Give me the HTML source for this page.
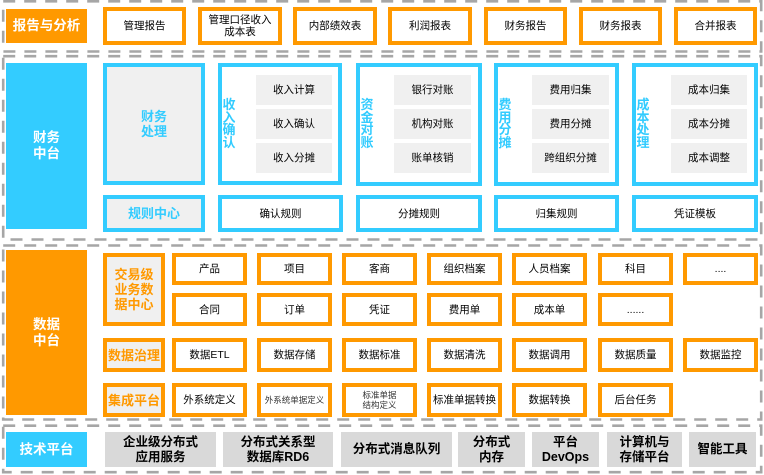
<!DOCTYPE html>
<html><head><meta charset="utf-8">
<style>
*{margin:0;padding:0;box-sizing:border-box}
html,body{width:764px;height:475px;background:#fff;overflow:hidden}
body{position:relative;font-family:"Liberation Sans","Noto Sans CJK SC",sans-serif;color:#000}
.b{position:absolute;display:flex;align-items:center;justify-content:center;text-align:center;font-size:10.5px;line-height:12px}
.o{border:4px solid #ff9900;background:#fff}
.bl{border:4px solid #33ccff;background:#fff}
.g{background:#f0f0f0}
.lab{color:#fff;font-weight:bold;font-size:13.5px;line-height:16px}
.ob{background:#ff9900}
.bb{background:#33ccff}
.ol{border:4px solid #ff9900;background:#f0f0f0;color:#ff9900;font-weight:bold;font-size:13px;line-height:15px}
.blt{color:#33ccff;font-weight:bold;font-size:13px;line-height:15px}
.vt{position:absolute;color:#33ccff;font-weight:bold;font-size:13px;line-height:12.5px;width:14px;text-align:center}
.t{background:#d9d9d9;font-weight:bold;font-size:12.5px;line-height:15px}
.sm{font-size:8.5px;line-height:10px;color:#333}
</style></head><body>
<svg width="764" height="475" style="position:absolute;left:0;top:0">
<g fill="none" stroke="#a6a6a6" stroke-width="2.6" stroke-dasharray="12 9">
<rect x="3.2" y="1.3" width="758" height="50.2"/>
<rect x="3.2" y="56.2" width="758" height="183.3"/>
<rect x="3.2" y="245.5" width="758" height="174"/>
<rect x="3.2" y="425.7" width="758" height="46.5"/>
</g>
</svg>

<!-- Top section -->
<div class="b lab ob" style="left:6px;top:9px;width:81px;height:34px">报告与分析</div>
<div class="b o" style="left:103px;top:7px;width:83px;height:38px">管理报告</div>
<div class="b o" style="left:198px;top:7px;width:84px;height:38px">管理口径收入<br>成本表</div>
<div class="b o" style="left:293px;top:7px;width:84px;height:38px">内部绩效表</div>
<div class="b o" style="left:388px;top:7px;width:84px;height:38px">利润报表</div>
<div class="b o" style="left:484px;top:7px;width:83px;height:38px">财务报告</div>
<div class="b o" style="left:579px;top:7px;width:83px;height:38px">财务报表</div>
<div class="b o" style="left:674px;top:7px;width:83px;height:38px">合并报表</div>

<!-- Finance section -->
<div class="b lab bb" style="left:6px;top:63px;width:81px;height:166px">财务<br>中台</div>
<div class="b bl g blt" style="left:103px;top:63px;width:102px;height:122px">财务<br>处理</div>

<div class="b bl" style="left:218px;top:63px;width:124px;height:122px"></div>
<div class="vt" style="left:222px;top:99px">收<br>入<br>确<br>认</div>
<div class="b g" style="left:256px;top:75px;width:76px;height:30px">收入计算</div>
<div class="b g" style="left:256px;top:109px;width:76px;height:30px">收入确认</div>
<div class="b g" style="left:256px;top:143px;width:76px;height:30px">收入分摊</div>

<div class="b bl" style="left:356px;top:63px;width:126px;height:123px"></div>
<div class="vt" style="left:360px;top:99px">资<br>金<br>对<br>账</div>
<div class="b g" style="left:394px;top:75px;width:77px;height:30px">银行对账</div>
<div class="b g" style="left:394px;top:109px;width:77px;height:30px">机构对账</div>
<div class="b g" style="left:394px;top:143px;width:77px;height:30px">账单核销</div>

<div class="b bl" style="left:494px;top:63px;width:125px;height:123px"></div>
<div class="vt" style="left:498px;top:99px">费<br>用<br>分<br>摊</div>
<div class="b g" style="left:532px;top:75px;width:77px;height:30px">费用归集</div>
<div class="b g" style="left:532px;top:109px;width:77px;height:30px">费用分摊</div>
<div class="b g" style="left:532px;top:143px;width:77px;height:30px">跨组织分摊</div>

<div class="b bl" style="left:632px;top:63px;width:126px;height:123px"></div>
<div class="vt" style="left:636px;top:99px">成<br>本<br>处<br>理</div>
<div class="b g" style="left:671px;top:75px;width:76px;height:30px">成本归集</div>
<div class="b g" style="left:671px;top:109px;width:76px;height:30px">成本分摊</div>
<div class="b g" style="left:671px;top:143px;width:76px;height:30px">成本调整</div>

<div class="b bl g blt" style="left:103px;top:195px;width:102px;height:37px">规则中心</div>
<div class="b bl" style="left:218px;top:195px;width:125px;height:37px">确认规则</div>
<div class="b bl" style="left:356px;top:195px;width:126px;height:37px">分摊规则</div>
<div class="b bl" style="left:494px;top:195px;width:125px;height:37px">归集规则</div>
<div class="b bl" style="left:632px;top:195px;width:126px;height:37px">凭证模板</div>

<!-- Data section -->
<div class="b lab ob" style="left:6px;top:250px;width:81px;height:165px">数据<br>中台</div>
<div class="b ol" style="left:103px;top:253px;width:62px;height:73px">交易级<br>业务数<br>据中心</div>
<div class="b ol" style="left:103px;top:338px;width:62px;height:34px">数据治理</div>
<div class="b ol" style="left:103px;top:383px;width:62px;height:34px">集成平台</div>

<div class="b o" style="left:172px;top:253px;width:75px;height:32px">产品</div>
<div class="b o" style="left:257px;top:253px;width:75px;height:32px">项目</div>
<div class="b o" style="left:342px;top:253px;width:75px;height:32px">客商</div>
<div class="b o" style="left:427px;top:253px;width:75px;height:32px">组织档案</div>
<div class="b o" style="left:512px;top:253px;width:75px;height:32px">人员档案</div>
<div class="b o" style="left:598px;top:253px;width:75px;height:32px">科目</div>
<div class="b o" style="left:683px;top:253px;width:75px;height:32px">....</div>

<div class="b o" style="left:172px;top:293px;width:75px;height:33px">合同</div>
<div class="b o" style="left:257px;top:293px;width:75px;height:33px">订单</div>
<div class="b o" style="left:342px;top:293px;width:75px;height:33px">凭证</div>
<div class="b o" style="left:427px;top:293px;width:75px;height:33px">费用单</div>
<div class="b o" style="left:512px;top:293px;width:75px;height:33px">成本单</div>
<div class="b o" style="left:598px;top:293px;width:75px;height:33px">......</div>

<div class="b o" style="left:172px;top:338px;width:75px;height:34px">数据ETL</div>
<div class="b o" style="left:257px;top:338px;width:75px;height:34px">数据存储</div>
<div class="b o" style="left:342px;top:338px;width:75px;height:34px">数据标准</div>
<div class="b o" style="left:427px;top:338px;width:75px;height:34px">数据清洗</div>
<div class="b o" style="left:512px;top:338px;width:75px;height:34px">数据调用</div>
<div class="b o" style="left:598px;top:338px;width:75px;height:34px">数据质量</div>
<div class="b o" style="left:683px;top:338px;width:75px;height:34px">数据监控</div>

<div class="b o" style="left:172px;top:383px;width:75px;height:34px">外系统定义</div>
<div class="b o sm" style="left:257px;top:383px;width:75px;height:34px">外系统单据定义</div>
<div class="b o sm" style="left:342px;top:383px;width:75px;height:34px">标准单据<br>结构定义</div>
<div class="b o" style="left:427px;top:383px;width:75px;height:34px">标准单据转换</div>
<div class="b o" style="left:512px;top:383px;width:75px;height:34px">数据转换</div>
<div class="b o" style="left:598px;top:383px;width:75px;height:34px">后台任务</div>

<!-- Tech section -->
<div class="b lab bb" style="left:6px;top:432px;width:81px;height:35px">技术平台</div>
<div class="b t" style="left:105px;top:432px;width:111px;height:35px">企业级分布式<br>应用服务</div>
<div class="b t" style="left:223px;top:432px;width:110px;height:35px">分布式关系型<br>数据库RD6</div>
<div class="b t" style="left:341px;top:432px;width:111px;height:35px">分布式消息队列</div>
<div class="b t" style="left:458px;top:432px;width:67px;height:35px">分布式<br>内存</div>
<div class="b t" style="left:532px;top:432px;width:67px;height:35px">平台<br>DevOps</div>
<div class="b t" style="left:607px;top:432px;width:75px;height:35px">计算机与<br>存储平台</div>
<div class="b t" style="left:689px;top:432px;width:67px;height:35px">智能工具</div>
</body></html>
